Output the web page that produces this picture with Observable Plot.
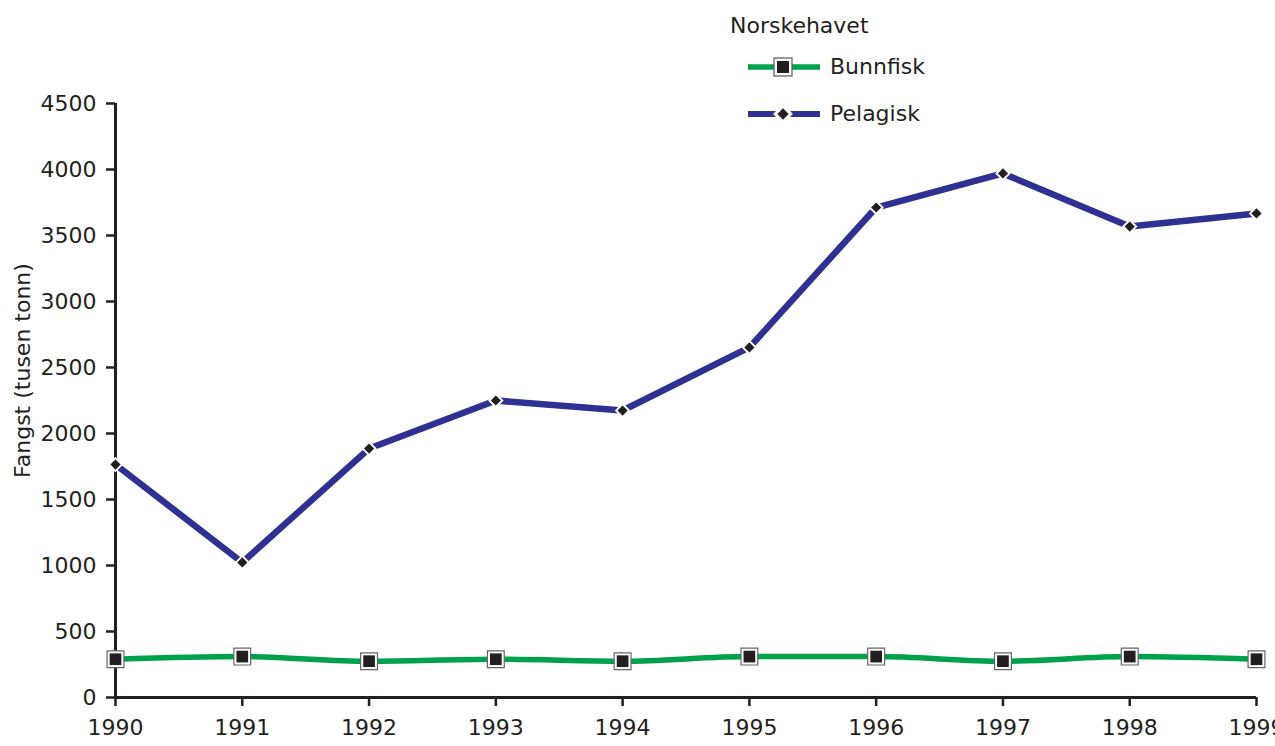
<!DOCTYPE html>
<html>
<head>
<meta charset="utf-8">
<script src="https://cdn.jsdelivr.net/npm/d3@7"></script>
<script src="https://cdn.jsdelivr.net/npm/@observablehq/plot@0.6"></script>
<style>
  body { margin: 0; background: #fff; font-family: "DejaVu Sans", sans-serif; }
  #wrap { position: relative; width: 1275px; height: 746px; }
  #legend { position: absolute; left: 730px; top: 9px; color: #231f20; font-size: 22px; }
  #legend .title { margin-left: 0; line-height: 34px; }
  #legend .row { display: flex; align-items: center; height: 47px; margin-left: 18px; }
  #legend .row span { margin-left: 10px; }
  svg { overflow: visible; }
</style>
</head>
<body>
<div id="wrap">
  <div id="chart"></div>
  <div id="legend">
    <div class="title">Norskehavet</div>
    <div class="row">
      <svg width="72" height="20"><line x1="0" y1="10" x2="72" y2="10" stroke="#00a14b" stroke-width="5.5"/><rect x="26" y="1" width="18" height="18" fill="#fff" stroke="#555" stroke-width="1.2"/><rect x="29" y="4" width="12" height="12" fill="#231f20"/></svg>
      <span>Bunnfisk</span>
    </div>
    <div class="row">
      <svg width="72" height="20"><line x1="0" y1="10" x2="72" y2="10" stroke="#2e3192" stroke-width="6"/><rect x="28" y="3" width="14" height="14" fill="#fff" transform="rotate(45 35 10)"/><rect x="31" y="6" width="8" height="8" fill="#231f20" transform="rotate(45 35 10)"/></svg>
      <span>Pelagisk</span>
    </div>
  </div>
</div>
<script>
const years = [1990, 1991, 1992, 1993, 1994, 1995, 1996, 1997, 1998, 1999];
const bunnfisk = [290, 310, 275, 290, 275, 310, 310, 275, 310, 290];
const pelagisk = [1765, 1023, 1886, 2250, 2174, 2652, 3712, 3970, 3568, 3667];
const yTicks = [0, 500, 1000, 1500, 2000, 2500, 3000, 3500, 4000, 4500];

const bData = years.map((y, i) => ({year: y, value: bunnfisk[i]}));
const pData = years.map((y, i) => ({year: y, value: pelagisk[i]}));

const ink = "#231f20";
const chart = Plot.plot({
  width: 1275,
  height: 746,
  marginLeft: 115,
  marginRight: 19,
  marginTop: 103,
  marginBottom: 49,
  style: {fontFamily: '"DejaVu Sans", sans-serif', fontSize: "22px", color: ink, background: "transparent"},
  x: {domain: [1990, 1999]},
  y: {domain: [0, 4500]},
  marks: [
    Plot.axisY({ticks: yTicks, tickSize: 9, tickPadding: 10, tickFormat: d => String(d), label: null, stroke: ink, strokeWidth: 2.5}),
    Plot.axisX({ticks: years, tickSize: 9, tickPadding: 13, tickFormat: d => String(d), label: null, stroke: ink, strokeWidth: 2.5}),
    Plot.text(["Fangst (tusen tonn)"], {frameAnchor: "left", textAnchor: "middle", dx: -93, dy: -30, rotate: -90, fontSize: 22, fill: ink}),
    Plot.ruleX([1990], {stroke: ink, strokeWidth: 3}),
    Plot.ruleY([0], {stroke: ink, strokeWidth: 3}),
    Plot.line(pData, {x: "year", y: "value", stroke: "#2e3192", strokeWidth: 6.5}),
    Plot.dot(pData, {x: "year", y: "value", symbol: "diamond2", r: 7, fill: "#fff"}),
    Plot.dot(pData, {x: "year", y: "value", symbol: "diamond2", r: 4.6, fill: ink}),
    Plot.line(bData, {x: "year", y: "value", stroke: "#00a14b", strokeWidth: 5.5, curve: "monotone-x"}),
    Plot.dot(bData, {x: "year", y: "value", symbol: "square", r: 9.5, fill: "#fff", stroke: "#666", strokeWidth: 1.2}),
    Plot.dot(bData, {x: "year", y: "value", symbol: "square", r: 6.6, fill: ink})
  ]
});
document.getElementById("chart").appendChild(chart);
</script>
</body>
</html>
